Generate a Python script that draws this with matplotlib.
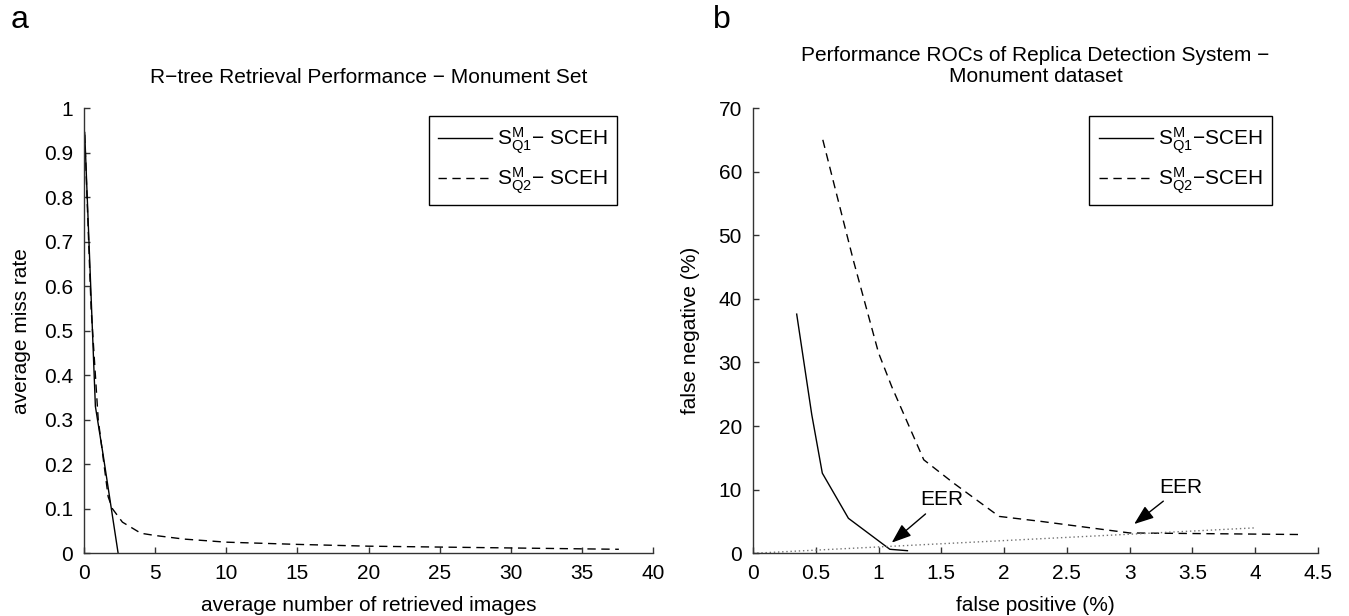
import numpy as np
import matplotlib
matplotlib.use('Agg')
import matplotlib.pyplot as plt

plt.rcParams['font.family'] = ['Liberation Sans', 'DejaVu Sans']
plt.rcParams['mathtext.default'] = 'regular'
plt.rcParams['font.size'] = 15

# panel a: R-tree retrieval
q1_x = [0.05, 0.8, 1.35, 2.4]
q1_y = [0.945, 0.33, 0.22, 0.0]
q2_x = [0.05, 0.5, 1.0, 1.7, 2.0, 2.7, 4.0, 5.0, 7.0, 10, 15, 20, 25, 30, 35, 37.6]
q2_y = [0.94, 0.55, 0.3, 0.127, 0.1, 0.07, 0.045, 0.04, 0.032, 0.025, 0.02, 0.016, 0.014, 0.012, 0.01, 0.009]

# panel b: ROCs
roc1_fp = [0.348, 0.468, 0.552, 0.76, 1.09, 1.23]
roc1_fn = [37.6, 21.8, 12.6, 5.5, 0.63, 0.41]
roc2_fp = [0.556, 0.8, 1.0, 1.105, 1.36, 1.6, 1.96, 2.3, 3.0, 4.37]
roc2_fn = [65.0, 46.0, 31.5, 26.2, 14.7, 11.0, 5.8, 5.0, 3.2, 2.95]
eer_line = [0, 4]

W, H = 1349, 616
fig = plt.figure(figsize=(W / 100, H / 100), dpi=100)

def px_axes(x0, x1, ytop, ybot):
    return fig.add_axes([x0 / W, 1 - ybot / H, (x1 - x0) / W, (ybot - ytop) / H])

def style(ax):
    ax.spines['top'].set_visible(False)
    ax.spines['right'].set_visible(False)
    for s in ['left', 'bottom']:
        ax.spines[s].set_color('#333333')
        ax.spines[s].set_linewidth(1.0)
    ax.tick_params(direction='in', length=4, width=1, color='#333333', labelsize=15, pad=8)

def legend(ax, x_right):
    leg = ax.legend(loc='upper right', bbox_to_anchor=(x_right, 0.983), borderaxespad=0,
                    fancybox=False, edgecolor='k', framealpha=1, handlelength=2.6,
                    fontsize=15, borderpad=0.45, labelspacing=0.45, handletextpad=0.25)
    leg.get_frame().set_linewidth(1.0)

ax1 = px_axes(84, 653, 108, 553.3)
ax1.plot(q1_x, q1_y, 'k-', lw=1.0, label='$S^M_{Q1}$− SCEH')
ax1.plot(q2_x, q2_y, 'k--', lw=1.0, dashes=(6, 4), label='$S^M_{Q2}$− SCEH')
ax1.set_xlim(0, 40)
ax1.set_ylim(0, 1)
ax1.set_xticks(np.arange(0, 41, 5))
ax1.set_yticks(np.arange(0, 1.01, 0.1))
ax1.set_yticklabels(['0'] + ['%.1f' % v for v in np.arange(0.1, 0.95, 0.1)] + ['1'])
style(ax1)
ax1.set_xlabel('average number of retrieved images', fontsize=15, va='center')
ax1.xaxis.set_label_coords(0.5, (553.3 - 605) / 445)
ax1.set_ylabel('average miss rate', fontsize=15, va='center')
ax1.yaxis.set_label_coords((22 - 84) / 569, 0.5)
ax1.text(0.5, (553.3 - 78) / 445, 'R−tree Retrieval Performance − Monument Set',
         transform=ax1.transAxes, ha='center', va='center', fontsize=15)
legend(ax1, 0.937)

ax2 = px_axes(753, 1318, 108, 553.3)
ax2.plot(roc1_fp, roc1_fn, 'k-', lw=1.0, label='$S^M_{Q1}$−SCEH')
ax2.plot(roc2_fp, roc2_fn, 'k--', lw=1.0, dashes=(6, 4), label='$S^M_{Q2}$−SCEH')
ax2.plot(eer_line, eer_line, color='0.45', lw=1.0, linestyle=(0, (1, 2)))
ax2.set_xlim(0, 4.5)
ax2.set_ylim(0, 70)
ax2.set_xticks(np.arange(0, 4.51, 0.5))
ax2.set_xticklabels(['0', '0.5', '1', '1.5', '2', '2.5', '3', '3.5', '4', '4.5'])
ax2.set_yticks(np.arange(0, 71, 10))
style(ax2)
ax2.set_xlabel('false positive (%)', fontsize=15, va='center')
ax2.xaxis.set_label_coords(0.5, (553.3 - 605) / 445)
ax2.set_ylabel('false negative (%)', fontsize=15, va='center')
ax2.yaxis.set_label_coords((690 - 753) / 565, 0.5)
ax2.text(0.5, (553.3 - 66) / 445, 'Performance ROCs of Replica Detection System −\nMonument dataset',
         transform=ax2.transAxes, ha='center', va='center', fontsize=15, linespacing=1.15)
legend(ax2, 0.919)

arrow = dict(arrowstyle='-|>,head_length=0.8,head_width=0.3', color='k', lw=1.0,
             shrinkA=2, shrinkB=0)
ax2.annotate('EER', xy=(1.105, 1.67), xytext=(1.506, 8.4), ha='center', va='center',
             fontsize=15, arrowprops=arrow)
ax2.annotate('EER', xy=(3.036, 4.6), xytext=(3.41, 10.4), ha='center', va='center',
             fontsize=15, arrowprops=arrow)

fig.text(20 / W, 1 - 20 / H, 'a', ha='center', va='center', fontsize=23)
fig.text(722 / W, 1 - 20 / H, 'b', ha='center', va='center', fontsize=23)

fig.savefig('out.png', dpi=100)
